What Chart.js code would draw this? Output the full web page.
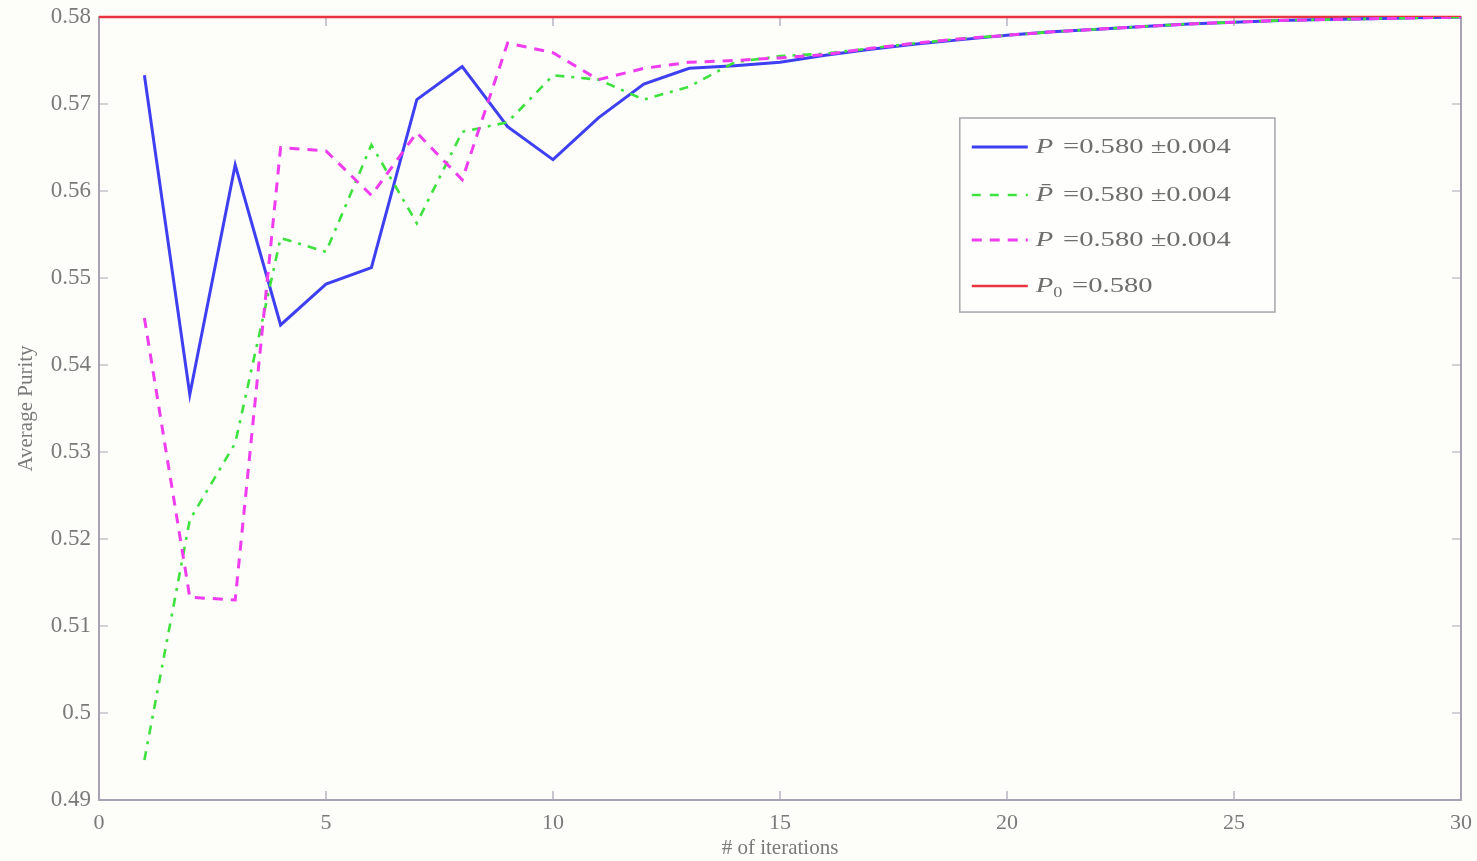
<!DOCTYPE html>
<html>
<head>
<meta charset="utf-8">
<script src="https://cdn.jsdelivr.net/npm/chart.js@4.4.1/dist/chart.umd.min.js"></script>
<style>
  html, body { margin: 0; padding: 0; background: #fdfdf9; }
  #wrap { width: 1477px; height: 861px; }
</style>
</head>
<body>
<div id="wrap"><canvas id="c" width="1477" height="861"></canvas></div>
<script>
// ---- data ----
const iterations = [1,2,3,4,5,6,7,8,9,10,11,12,13,14,15,16,17,18,19,20,21,22,23,24,25,26,27,28,29,30];
const purityP    = [0.5733,0.5366,0.5630,0.5446,0.5493,0.5512,0.5705,0.5743,0.5674,0.5636,0.5684,0.5723,0.5741,0.5744,0.5748,0.5756,0.5763,0.5769,0.5774,0.5779,0.5783,0.5786,0.5789,0.5792,0.5794,0.5796,0.5797,0.5798,0.5799,0.5800];
const purityPbar = [0.4946,0.5222,0.5310,0.5546,0.5530,0.5653,0.5563,0.5668,0.5679,0.5733,0.5728,0.5705,0.5720,0.5748,0.5755,0.5758,0.5764,0.5770,0.5775,0.5779,0.5783,0.5786,0.5789,0.5792,0.5794,0.5796,0.5797,0.5798,0.5799,0.5800];
const purityPhat = [0.5454,0.5133,0.5130,0.5650,0.5646,0.5595,0.5667,0.5613,0.5770,0.5759,0.5728,0.5741,0.5748,0.5750,0.5753,0.5757,0.5764,0.5770,0.5775,0.5779,0.5783,0.5786,0.5789,0.5792,0.5794,0.5796,0.5797,0.5798,0.5799,0.5800];
const p0X = [0, 30];
const p0Y = [0.58, 0.58];
const xTickValues = [0,5,10,15,20,25,30];
const yTickValues = [0.49,0.50,0.51,0.52,0.53,0.54,0.55,0.56,0.57,0.58];
const yTickLabels = ['0.49','0.5','0.51','0.52','0.53','0.54','0.55','0.56','0.57','0.58'];
const legendMain = ['P', 'P\u0304', 'P', 'P'];
const legendSub  = ['', '', '', '0'];
const legendRest = [' =0.580 \u00b10.004', ' =0.580 \u00b10.004', ' =0.580 \u00b10.004', ' =0.580'];

const toPts = (xs, ys) => xs.map((x, i) => ({x: x, y: ys[i]}));
const SERIF = '"Liberation Serif", "DejaVu Serif", serif';
const TEXT = '#7a7a7a';
const AXIS = '#aaa3b4';

const bgPlugin = {
  id: 'bg',
  beforeDraw(chart) {
    const ctx = chart.ctx;
    ctx.save();
    ctx.fillStyle = '#fdfdf9';
    ctx.fillRect(0, 0, chart.width, chart.height);
    ctx.restore();
  }
};

const boxPlugin = {
  id: 'box',
  beforeDatasetsDraw(chart) {
    const {ctx, chartArea: a, scales} = chart;
    ctx.save();
    ctx.strokeStyle = AXIS;
    ctx.lineWidth = 2;
    ctx.strokeRect(a.left, a.top, a.right - a.left, a.bottom - a.top);
    ctx.lineWidth = 1.2;
    const tl = 9;
    xTickValues.forEach(v => {
      const px = scales.x.getPixelForValue(v);
      ctx.beginPath();
      ctx.moveTo(px, a.bottom); ctx.lineTo(px, a.bottom - tl);
      ctx.moveTo(px, a.top); ctx.lineTo(px, a.top + tl);
      ctx.stroke();
    });
    yTickValues.forEach(v => {
      const py = scales.y.getPixelForValue(v);
      ctx.beginPath();
      ctx.moveTo(a.left, py); ctx.lineTo(a.left + tl, py);
      ctx.moveTo(a.right, py); ctx.lineTo(a.right - tl, py);
      ctx.stroke();
    });
    ctx.restore();
  }
};

const legendPlugin = {
  id: 'mlegend',
  afterDraw(chart) {
    const {ctx, chartArea: a} = chart;
    const W = a.right - a.left, H = a.bottom - a.top;
    const L = a.left + 0.632 * W, R = a.left + 0.8634 * W;
    const T = a.top + 0.129 * H, B = a.top + 0.3768 * H;
    ctx.save();
    ctx.fillStyle = '#fefefc';
    ctx.fillRect(L, T, R - L, B - T);
    ctx.strokeStyle = '#a9a4ad';
    ctx.lineWidth = 1.5;
    ctx.strokeRect(L, T, R - L, B - T);
    const rowsY = [147, 195, 240, 286].map(y => a.top + (y - 17) / 783 * H);
    chart.data.datasets.forEach((ds, i) => {
      const y = rowsY[i];
      ctx.save();
      ctx.strokeStyle = ds.borderColor;
      ctx.lineWidth = ds.borderWidth;
      ctx.setLineDash(ds.legendDash || ds.borderDash || []);
      ctx.beginPath();
      ctx.moveTo(L + 12, y); ctx.lineTo(L + 68, y);
      ctx.stroke();
      ctx.restore();
      ctx.save();
      const sx = 1.3;
      ctx.translate(L + 76, y);
      ctx.scale(sx, 1);
      let x = 0;
      ctx.fillStyle = '#6e6e6e';
      ctx.textBaseline = 'middle';
      ctx.textAlign = 'left';
      ctx.font = 'italic 22px ' + SERIF;
      ctx.fillText(legendMain[i], x, 0);
      x += ctx.measureText(legendMain[i]).width;
      if (legendSub[i]) {
        ctx.font = '14px ' + SERIF;
        ctx.fillText(legendSub[i], x, 7);
        x += ctx.measureText(legendSub[i]).width;
      }
      ctx.font = '22px ' + SERIF;
      ctx.fillText(legendRest[i], x + 2, 0);
      ctx.restore();
    });
    ctx.restore();
  }
};

new Chart(document.getElementById('c'), {
  type: 'line',
  data: {
    datasets: [
      { label: 'P', data: toPts(iterations, purityP), borderColor: '#3f3ff2', borderWidth: 3, pointRadius: 0, tension: 0, order: 4 },
      { label: 'Pbar', data: toPts(iterations, purityPbar), borderColor: '#3ee23e', borderWidth: 2.6, borderDash: [9,7,3,7], legendDash: [9,9], pointRadius: 0, tension: 0, order: 3 },
      { label: 'Phat', data: toPts(iterations, purityPhat), borderColor: '#ee3cee', borderWidth: 3, borderDash: [10,8], pointRadius: 0, tension: 0, order: 2 },
      { label: 'P0', data: toPts(p0X, p0Y), borderColor: '#e8343f', borderWidth: 2.6, pointRadius: 0, tension: 0, clip: 6, order: 5 }
    ]
  },
  options: {
    responsive: false,
    animation: false,
    devicePixelRatio: 1,
    layout: { padding: { left: 0, right: 16, top: 17, bottom: 0 } },
    plugins: { legend: { display: false }, tooltip: { enabled: false } },
    scales: {
      x: {
        type: 'linear', min: 0, max: 30,
        afterBuildTicks: s => { s.ticks = xTickValues.map(v => ({value: v})); },
        afterFit: s => { s.height = 61; s.paddingLeft = 0; s.paddingRight = 0; },
        grid: { display: false, drawTicks: false },
        border: { display: false },
        ticks: { color: TEXT, font: { family: SERIF, size: 22 }, padding: 10, maxRotation: 0, callback: v => String(v) },
        title: { display: true, text: '# of iterations', color: TEXT, font: { family: SERIF, size: 21 }, padding: { top: 0, bottom: 0 } }
      },
      y: {
        type: 'linear', min: 0.49, max: 0.58,
        afterBuildTicks: s => { s.ticks = yTickValues.map(v => ({value: v})); },
        afterFit: s => { s.width = 99; s.paddingTop = 0; s.paddingBottom = 0; },
        grid: { display: false, drawTicks: false },
        border: { display: false },
        ticks: { color: TEXT, font: { family: SERIF, size: 23 }, padding: 8,
          callback: (v) => { const i = yTickValues.findIndex(t => Math.abs(t - v) < 1e-6); return i >= 0 ? yTickLabels[i] : ''; } },
        title: { display: true, text: 'Average Purity', color: TEXT, font: { family: SERIF, size: 21 }, padding: { top: 14, bottom: 0 } }
      }
    }
  },
  plugins: [bgPlugin, boxPlugin, legendPlugin]
});
</script>
</body>
</html>
